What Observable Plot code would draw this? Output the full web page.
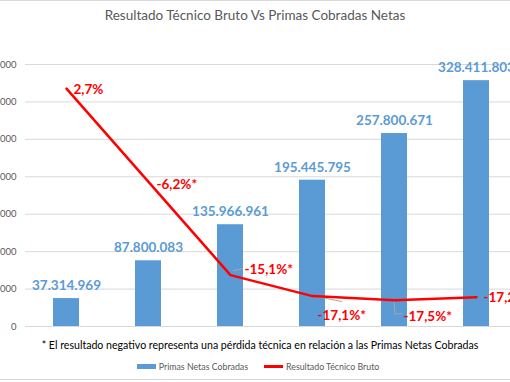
<!DOCTYPE html>
<html>
<head>
<meta charset="utf-8">
<script src="https://cdn.jsdelivr.net/npm/d3@7"></script>
<script src="https://cdn.jsdelivr.net/npm/@observablehq/plot@0.6"></script>
<style>
  html, body { margin: 0; padding: 0; background: #fff; }
  body { width: 510px; height: 382px; overflow: hidden; position: relative; font-family: Lato, "Open Sans", sans-serif; }
  #frame { position: absolute; left: 0; top: 0; width: 510px; height: 380px; border-top: 1px solid #d9d9d9; border-bottom: 1px solid #d9d9d9; box-sizing: border-box; }
  #title { position: absolute; left: 0; width: 510px; top: 7px; text-align: center; font-size: 13.5px; color: #595959; }
  #chart { position: absolute; left: -50px; top: 30px; }
  #chart svg { max-width: none !important; }
  #note { position: absolute; left: 0; width: 520px; top: 339px; text-align: center; font-size: 10.6px; color: #000; }
  #legend { position: absolute; left: 0; width: 516px; top: 361px; display: flex; justify-content: center; align-items: center; font-size: 8.8px; color: #595959; }
  .sw { display: inline-block; width: 19px; margin-right: 3px; }
  .item { display: flex; align-items: center; margin: 0 8px; }
</style>
</head>
<body>
<div id="frame"></div>
<div id="title">Resultado Técnico Bruto Vs Primas Cobradas Netas</div>
<div id="chart"></div>
<div id="note">* El resultado negativo representa una pérdida técnica en relación a las Primas Netas Cobradas</div>
<div id="legend"></div>
<script>
// ---- data ----
const categories = ["P1", "P2", "P3", "P4", "P5", "P6"];
const primasNetas = [37314969, 87800083, 135966961, 195445795, 257800671, 328411803];
const resultadoPct = [2.7, -6.2, -15.1, -17.1, -17.5, -17.2];
const yTicks = [0, 50000000, 100000000, 150000000, 200000000, 250000000, 300000000, 350000000];
const seriesNames = ["Primas Netas Cobradas", "Resultado Técnico Bruto"];
const secondaryDomain = [-20, 5];

const es = d3.formatLocale({decimal: ",", thousands: ".", grouping: [3], currency: ["", "€"], minus: "-"});
const fmtNum = es.format(",.0f");
const fmtPct = v => es.format(".1f")(v) + "%" + (v < 0 ? "*" : "");

const blue = "#5B9BD5", red = "#FF0000";
const toPrimary = d3.scaleLinear().domain(secondaryDomain).range([0, 350000000]);

const bars = categories.map((c, i) => ({cat: c, v: primasNetas[i]}));
const pts = categories.map((c, i) => ({cat: c, pct: resultadoPct[i], y: toPrimary(resultadoPct[i]), i}));

// label placement (layout only)
const pctOffsets = [[7, 1], [8, 3], [14, -5], [5, 20], [9, 16], [7, 1]];
const pctLabels = pts.map((p, k) => Plot.text([p], {
  x: "cat", y: "y", text: d => fmtPct(d.pct),
  dx: pctOffsets[k][0], dy: pctOffsets[k][1], textAnchor: "start",
  fill: red, fontWeight: "bold", fontSize: 13.5
}));

const chart = Plot.plot({
  width: 567,
  height: 300,
  marginLeft: 75,
  marginRight: 0,
  marginTop: 34,
  marginBottom: 4,
  style: {fontFamily: "Lato, 'Open Sans', sans-serif", background: "transparent", overflow: "visible"},
  x: {domain: categories, paddingInner: 0.68, paddingOuter: 0.34, axis: null},
  y: {domain: [0, 350000000], axis: null},
  marks: [
    Plot.ruleY(yTicks, {stroke: "#d9d9d9", strokeWidth: 1}),
    Plot.axisY(yTicks, {tickSize: 0, tickPadding: 9, tickFormat: fmtNum, fill: "#595959", fontSize: 9.5, label: null}),
    Plot.barY(bars, {x: "cat", y: "v", fill: blue}),
    Plot.text(bars, {x: "cat", y: "v", text: d => fmtNum(d.v), dy: -13, fill: blue, fontWeight: "bold", fontSize: 13.5}),
    Plot.line(pts, {x: "cat", y: "y", stroke: red, strokeWidth: 2.5, curve: "linear"}),
    ...pctLabels
  ]
});
document.getElementById("chart").appendChild(chart);

// small gray leader lines for some data labels (drawn beneath the line)
try {
  const xs = chart.scale("x"), ys = chart.scale("y");
  const sx = d3.scaleBand().domain(xs.domain).range(xs.range).paddingInner(0.68).paddingOuter(0.34);
  const sy = d3.scaleLinear().domain(ys.domain).range(ys.range);
  const leaderShapes = {2: [[3, -4], [13, -6]], 3: [[0, 0], [30, 6]], 4: [[0, 0], [1, 14], [8, 14]]};
  const g = d3.select(chart).insert("g", "g[aria-label='line']").attr("fill", "none").attr("stroke", "#a6a6a6").attr("stroke-width", 1);
  Object.entries(leaderShapes).forEach(([k, shape]) => {
    const p = pts[+k];
    const px = sx(p.cat) + sx.bandwidth() / 2, py = sy(p.y);
    g.append("path").attr("d", d3.line()(shape.map(([dx, dy]) => [px + dx, py + dy])));
  });
} catch (e) {}

// legend
const lg = document.getElementById("legend");
seriesNames.forEach((name, i) => {
  const it = document.createElement("div");
  it.className = "item";
  const sw = document.createElement("span");
  sw.className = "sw";
  sw.style.height = i === 0 ? "5px" : "2.5px";
  sw.style.background = i === 0 ? blue : red;
  it.appendChild(sw);
  const t = document.createElement("span");
  t.textContent = name;
  it.appendChild(t);
  lg.appendChild(it);
});
</script>
</body>
</html>
